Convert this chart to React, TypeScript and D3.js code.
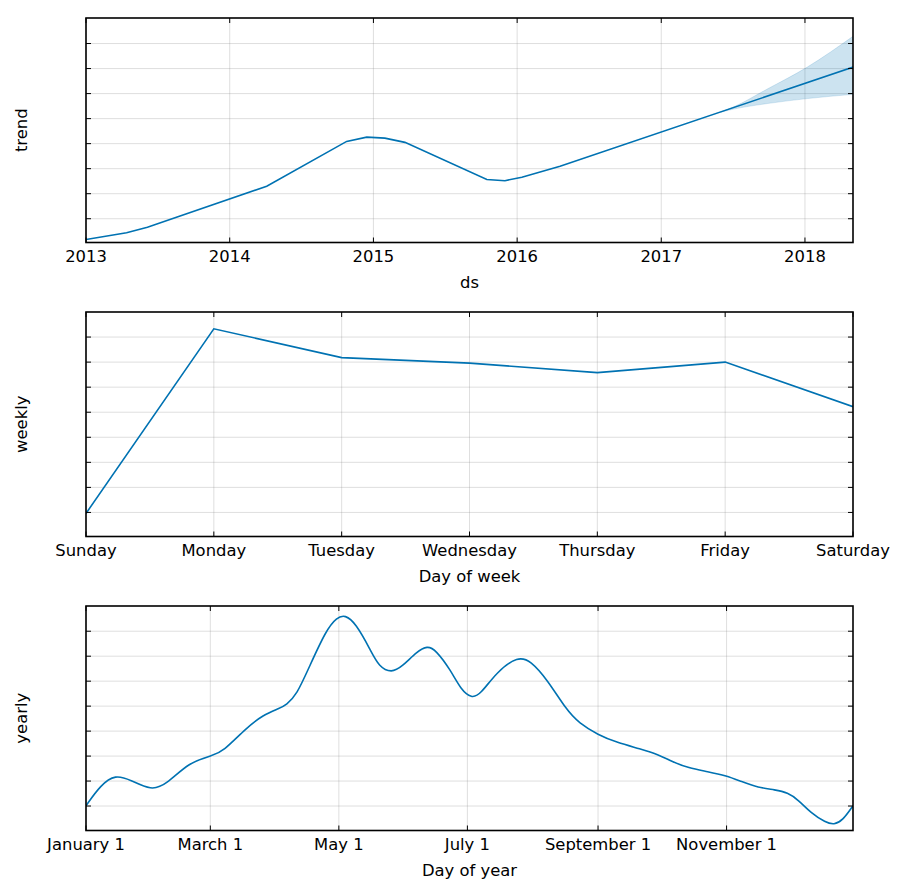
import React from 'react';
import * as d3 from 'd3';

const W = 900;
const H = 889;
const left = 86;
const right = 853;
const panelH = 224.5;
const tops = [18, 312, 606];
const blue = '#0072B2';
const font = '"DejaVu Sans", sans-serif';

// trend component, with the forecast uncertainty band
const trendDates = [
  '2013-01-01', '2013-04-14', '2013-06-06', '2014-04-05', '2014-10-25', '2014-12-15',
  '2015-01-30', '2015-03-22', '2015-10-16', '2015-12-01', '2016-01-13', '2016-04-19', '2018-05-04',
];
const trendValues = [0.17, 0.44, 0.66, 2.3, 4.09, 4.26, 4.22, 4.05, 2.57, 2.52, 2.66, 3.1, 7.06];
const bandDates = ['2017-06-01', '2017-07-04', '2017-09-27', '2018-01-07', '2018-05-04'];
const bandUpper = [5.26, 5.47, 6.18, 7.06, 8.3];
const bandLower = [5.26, 5.38, 5.6, 5.8, 5.97];
const yearLabels = ['2013', '2014', '2015', '2016', '2017', '2018'];

// weekly seasonality
const weekdays = ['Sunday', 'Monday', 'Tuesday', 'Wednesday', 'Thursday', 'Friday', 'Saturday'];
const weeklyValues = [0.96, 8.33, 7.18, 6.96, 6.58, 7.0, 5.22];

// yearly seasonality, by day of year
const yearDays = [
  0, 7, 14, 21, 31, 38, 49, 60, 65, 76, 84, 92, 95, 100, 106, 114, 119, 123, 128, 135, 139,
  145, 150, 157, 162, 166, 173, 178, 183, 187, 195, 205, 211, 219, 228, 234, 243, 252, 263,
  272, 278, 286, 295, 304, 311, 319, 327, 333, 338, 344, 351, 355, 359, 364,
];
const yearlyValues = [
  1.01, 1.85, 2.26, 2.05, 1.62, 1.85, 2.76, 3.02, 3.18, 4.12, 4.65, 4.92, 5.05, 5.45, 6.58,
  8.05, 8.55, 8.66, 8.32, 7.25, 6.58, 6.33, 6.58, 7.18, 7.42, 7.25, 6.45, 5.65, 5.32, 5.45,
  6.38, 7.0, 6.82, 6.05, 4.85, 4.32, 3.85, 3.54, 3.29, 3.05, 2.78, 2.52, 2.38, 2.21, 1.98,
  1.74, 1.65, 1.54, 1.25, 0.72, 0.34, 0.25, 0.41, 1.01,
];
const monthLabels = ['January 1', 'March 1', 'May 1', 'July 1', 'September 1', 'November 1'];
const monthDays = [0, 59, 120, 181, 243, 304];

const gridTicks = [1, 2, 3, 4, 5, 6, 7, 8];
const trendDomain: [number, number] = [0.05, 9.02];
const weeklyDomain: [number, number] = [0.04, 9.0];
const yearlyDomain: [number, number] = [0.02, 9.01];

const parse = d3.timeParse('%Y-%m-%d');
const day0 = new Date(2017, 0, 1);

type PanelProps = {
  id: string;
  top: number;
  y: d3.ScaleLinear<number, number>;
  tickX: number[];
  tickLabels: string[];
  title: string;
  xlabel: string;
  children?: React.ReactNode;
};

function Panel({ id, top, y, tickX, tickLabels, title, xlabel, children }: PanelProps) {
  const bottom = top + panelH;
  const tl = 5;
  return (
    <g>
      <defs>
        <clipPath id={id}>
          <rect x={left} y={top} width={right - left} height={panelH} />
        </clipPath>
      </defs>
      <g stroke="gray" strokeOpacity={0.25} strokeWidth={1}>
        {tickX.map((x, i) => (
          <line key={'v' + i} x1={x} x2={x} y1={top} y2={bottom} />
        ))}
        {gridTicks.map((t) => (
          <line key={'h' + t} x1={left} x2={right} y1={y(t)} y2={y(t)} />
        ))}
      </g>
      <g clipPath={`url(#${id})`}>{children}</g>
      <g stroke="#000" strokeWidth={1}>
        {tickX.map((x, i) => (
          <g key={'t' + i}>
            <line x1={x} x2={x} y1={bottom} y2={bottom - tl} />
            <line x1={x} x2={x} y1={top} y2={top + tl} />
          </g>
        ))}
        {gridTicks.map((t) => (
          <g key={'y' + t}>
            <line x1={left} x2={left + tl} y1={y(t)} y2={y(t)} />
            <line x1={right} x2={right - tl} y1={y(t)} y2={y(t)} />
          </g>
        ))}
      </g>
      <rect x={left} y={top} width={right - left} height={panelH} fill="none" stroke="#000" strokeWidth={1.6} />
      <g fontFamily={font} fontSize={16.4} fill="#000" textAnchor="middle">
        {tickX.map((x, i) => (
          <text key={'l' + i} x={x} y={bottom + 19}>
            {tickLabels[i]}
          </text>
        ))}
        <text x={(left + right) / 2} y={bottom + 45}>
          {xlabel}
        </text>
        <text transform={`translate(27,${top + panelH / 2}) rotate(-90)`}>{title}</text>
      </g>
    </g>
  );
}

export default function App() {
  // trend panel
  const xT = d3
    .scaleTime()
    .domain([parse('2013-01-01')!, parse('2018-05-03')!])
    .range([left, right]);
  const yT = d3.scaleLinear().domain(trendDomain).range([tops[0] + panelH, tops[0]]);
  const trendPts = trendDates.map((d, i) => [xT(parse(d)!), yT(trendValues[i])] as [number, number]);
  const trendLine = d3.line()(trendPts) ?? '';
  const bandPath =
    d3
      .area<number>()
      .x((i) => xT(parse(bandDates[i])!))
      .y0((i) => yT(bandLower[i]))
      .y1((i) => yT(bandUpper[i]))
      .curve(d3.curveMonotoneX)(bandDates.map((_, i) => i)) ?? '';
  const yearTickX = yearLabels.map((s) => xT(parse(`${s}-01-01`)!));

  // weekly panel
  const xW = d3.scalePoint<string>().domain(weekdays).range([left, right]);
  const yW = d3.scaleLinear().domain(weeklyDomain).range([tops[1] + panelH, tops[1]]);
  const weeklyLine =
    d3
      .line<number>()
      .x((_, i) => xW(weekdays[i])!)
      .y((v) => yW(v))(weeklyValues) ?? '';

  // yearly panel, smoothed with a B-spline through the sampled days
  const xY = d3
    .scaleTime()
    .domain([day0, d3.timeDay.offset(day0, 364)])
    .range([left, right]);
  const yY = d3.scaleLinear().domain(yearlyDomain).range([tops[2] + panelH, tops[2]]);
  const yearlyLine =
    d3
      .line<number>()
      .x((d) => xY(d3.timeDay.offset(day0, d)))
      .y((_, i) => yY(yearlyValues[i]))
      .curve(d3.curveBasis)(yearDays) ?? '';
  const monthTickX = monthDays.map((d) => xY(d3.timeDay.offset(day0, d)));

  return (
    <svg width={W} height={H} style={{ position: 'absolute', left: 0, top: 0, background: '#fff' }}>
      <rect width={W} height={H} fill="#fff" />
      <Panel id="c-trend" top={tops[0]} y={yT} tickX={yearTickX} tickLabels={yearLabels} title="trend" xlabel="ds">
        <path d={bandPath} fill={blue} fillOpacity={0.2} stroke={blue} strokeOpacity={0.15} />
        <path d={trendLine} fill="none" stroke={blue} strokeWidth={1.6} />
      </Panel>
      <Panel
        id="c-weekly"
        top={tops[1]}
        y={yW}
        tickX={weekdays.map((d) => xW(d)!)}
        tickLabels={weekdays}
        title="weekly"
        xlabel="Day of week"
      >
        <path d={weeklyLine} fill="none" stroke={blue} strokeWidth={1.6} />
      </Panel>
      <Panel
        id="c-yearly"
        top={tops[2]}
        y={yY}
        tickX={monthTickX}
        tickLabels={monthLabels}
        title="yearly"
        xlabel="Day of year"
      >
        <path d={yearlyLine} fill="none" stroke={blue} strokeWidth={1.6} />
      </Panel>
    </svg>
  );
}
